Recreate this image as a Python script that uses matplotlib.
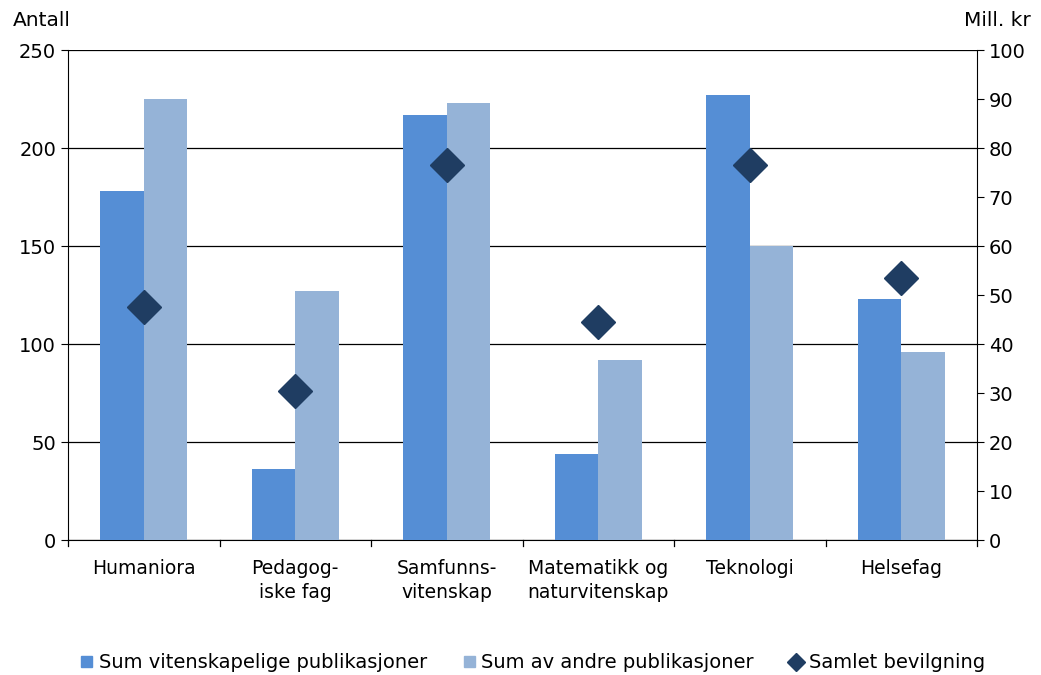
import numpy as np
import matplotlib
matplotlib.use('Agg')
import matplotlib.pyplot as plt
from matplotlib.lines import Line2D
from matplotlib.patches import Patch

plt.rcParams['font.family'] = 'DejaVu Sans'

kategorier = ['Humaniora', 'Pedagog-\niske fag', 'Samfunns-\nvitenskap',
              'Matematikk og\nnaturvitenskap', 'Teknologi', 'Helsefag']
vitenskapelige = [178, 36, 217, 44, 227, 123]
andre = [225, 127, 223, 92, 150, 96]
bevilgning = [47.5, 30.5, 76.5, 44.5, 76.5, 53.5]

fig = plt.figure(figsize=(10.41, 6.75), dpi=100)
ax = fig.add_axes([68 / 1041, 1 - 540 / 675, 909 / 1041, 490 / 675])
ax2 = ax.twinx()

x = np.arange(len(kategorier))
w = 0.287
ax.bar(x - w / 2, vitenskapelige, w, color='#558ED5', zorder=3)
ax.bar(x + w / 2, andre, w, color='#95B3D7', zorder=3)
ax2.plot(x, bevilgning, linestyle='none', marker='D', markersize=17,
         color='#1F3D62', zorder=4)

ax.set_xlim(-0.5, len(kategorier) - 0.5)
ax.set_ylim(0, 250)
ax.set_yticks(range(0, 251, 50))
ax2.set_ylim(0, 100)
ax2.set_yticks(range(0, 101, 10))
ax.grid(True, axis='y', color='black', linewidth=0.9, zorder=0)

# kategorietiketter uten tick, tick-streker mellom kategoriene
ax.set_xticks(x)
ax.set_xticklabels(kategorier, fontsize=13.5, linespacing=1.3, va='top')
ax.tick_params(axis='x', length=0, pad=14)
for b in np.arange(-0.5, len(kategorier), 1.0):
    ax.plot([b, b], [0, -0.012], transform=ax.get_xaxis_transform(),
            color='black', linewidth=0.9, clip_on=False)

for a in (ax, ax2):
    for s in a.spines.values():
        s.set_visible(False)
ax.spines['left'].set_visible(True)
ax.spines['bottom'].set_visible(True)
ax2.spines['right'].set_visible(True)
ax.tick_params(axis='y', labelsize=14, length=5, direction='out')
ax2.tick_params(axis='y', labelsize=14, length=5, direction='out')
ax.set_axisbelow(True)

fig.text(13 / 1041, 1 - 21 / 675, 'Antall', fontsize=14.5, va='center', ha='left')
fig.text(1031 / 1041, 1 - 21 / 675, 'Mill. kr', fontsize=14.5, va='center', ha='right')

handles = [
    Patch(color='#558ED5', label='Sum vitenskapelige publikasjoner'),
    Patch(color='#95B3D7', label='Sum av andre publikasjoner'),
    Line2D([], [], linestyle='none', marker='D', markersize=9,
           color='#1F3D62', label='Samlet bevilgning'),
]
fig.legend(handles=handles, loc='center', bbox_to_anchor=(533 / 1041, 1 - 663 / 675),
           ncol=3, frameon=False, fontsize=14, handlelength=0.55, handleheight=0.55,
           handletextpad=0.35, columnspacing=1.9)

fig.savefig('out.png', dpi=100)
